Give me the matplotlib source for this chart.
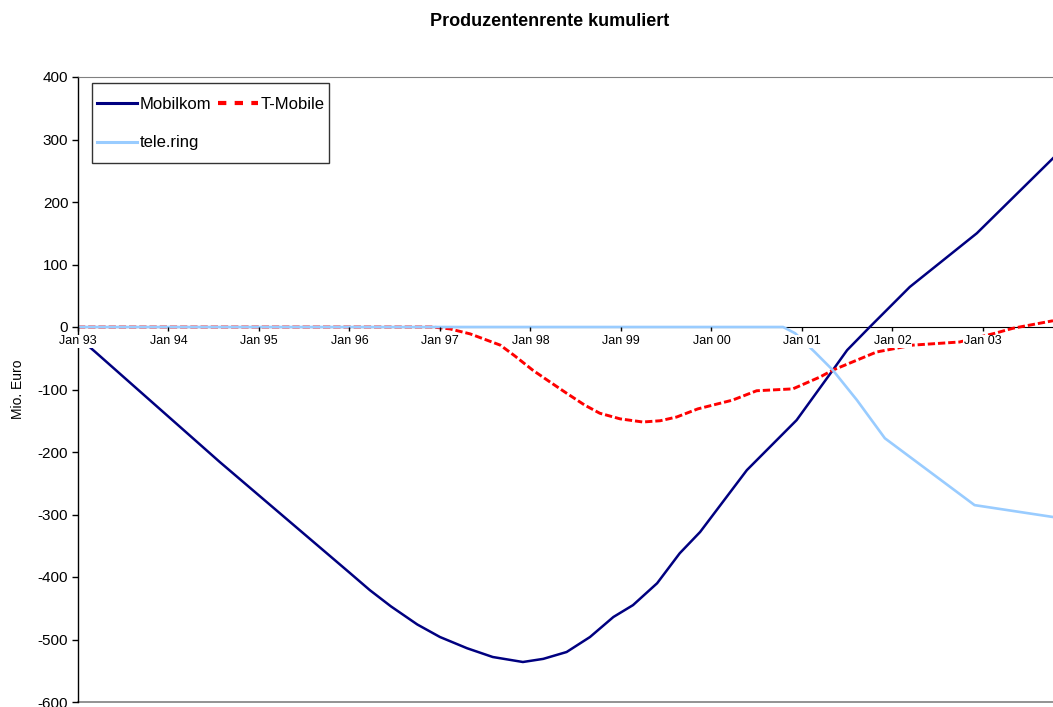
import matplotlib

matplotlib.use("Agg")

import numpy as np
import matplotlib.pyplot as plt
from matplotlib.legend_handler import HandlerLine2D
from matplotlib.lines import Line2D

# months counted from Jan 1993
MOBILKOM_M = [0, 2.3, 18.8, 36.1, 38.7, 41.5, 45.0, 48.0, 51.6, 55.0, 59.0, 61.7, 64.8,
              67.9, 71.0, 73.6, 76.8, 79.8, 82.5, 88.7, 95.3, 100.1, 102.0, 105.0,
              110.3, 119.2, 129.3]
MOBILKOM_V = [-16, -40, -216, -394, -421, -447, -476, -496, -514, -528, -536, -531, -520,
              -496, -464, -445, -410, -362, -328, -229, -149, -69, -37, 0,
              64, 150, 270]

TMOBILE_M = [0, 47.0, 49.3, 52.0, 56.0, 57.9, 60.3, 62.6, 64.8, 67.2, 69.2, 71.9,
             74.9, 77.2, 79.4, 82.2, 86.8, 90.0, 94.8, 98.4, 100.1, 105.9, 110.7,
             116.9, 121.6, 124.0, 129.3]
TMOBILE_V = [0, 0, -3, -11, -29, -46, -69, -88, -106, -125, -138, -147,
             -152, -150, -144, -131, -117, -102, -99, -80, -69, -40, -29,
             -24, -10, -2, 10]

TELERING_M = [0, 93.5, 95.1, 97.7, 100.1, 103.3, 107.0, 118.9, 129.3]
TELERING_V = [0, 0, -10, -40, -69, -117, -178, -285, -304]

TICK_MONTHS = [0, 12, 24, 36, 48, 60, 72, 84, 96, 108, 120]
TICK_LABELS = ["Jan 93", "Jan 94", "Jan 95", "Jan 96", "Jan 97", "Jan 98",
               "Jan 99", "Jan 00", "Jan 01", "Jan 02", "Jan 03"]
Y_TICKS = [-600, -500, -400, -300, -200, -100, 0, 100, 200, 300, 400]

NAVY = "#000080"
RED = "#FF0000"
LIGHT = "#99CCFF"
GRAY = "#808080"


class LoweredLine(HandlerLine2D):
    # legend line sits level with the middle of the label text
    def create_artists(self, legend, orig_handle, xdescent, ydescent, width, height,
                       fontsize, trans):
        artists = super().create_artists(legend, orig_handle, xdescent, ydescent,
                                         width, height, fontsize, trans)
        for a in artists:
            a.set_ydata(np.asarray(a.get_ydata()) - 0.3 * fontsize)
        return artists


plt.rcParams.update({
    "font.family": ["Liberation Sans", "DejaVu Sans"],
    "axes.unicode_minus": False,
})

fig = plt.figure(figsize=(10.53, 7.07), dpi=100)
ax = fig.add_axes([78 / 1053, 1 - 702 / 707, 1 - 78 / 1053, (702 - 77) / 707])
ax.set_axisbelow(False)

ax.plot(MOBILKOM_M, MOBILKOM_V, color=NAVY, lw=1.8, zorder=2)
ax.plot(TMOBILE_M, TMOBILE_V, color=RED, lw=2.1, dashes=(2.5, 1.0), zorder=2.1)
ax.plot(TELERING_M, TELERING_V, color=LIGHT, lw=1.9, zorder=2.2)

ax.set_xlim(0, 129.3)
ax.set_ylim(-600, 400)

ax.spines["right"].set_visible(False)
ax.spines["top"].set_color(GRAY)
ax.spines["bottom"].set_position(("data", 0))
ax.spines["bottom"].set_zorder(1)
ax.spines["left"].set_linewidth(1.0)
ax.axhline(-600, color=GRAY, lw=1.2, clip_on=False, zorder=1)

ax.set_yticks(Y_TICKS)
ax.set_yticklabels([str(v) for v in Y_TICKS], fontsize=11)
ax.tick_params(axis="y", direction="out", length=4, width=1, pad=3)

ax.set_xticks(TICK_MONTHS)
ax.set_xticklabels(TICK_LABELS, fontsize=9)
ax.tick_params(axis="x", direction="out", length=3, width=1, pad=3)
for lbl in ax.get_xticklabels():
    lbl.set_bbox(dict(facecolor="white", edgecolor="none", pad=0.5))

fig.text(18 / 1053, 1 - 389 / 707, "Mio. Euro", rotation=90, ha="center", va="center", fontsize=10)
fig.text(550 / 1053, 1 - 22 / 707, "Produzentenrente kumuliert", ha="center", va="center",
         fontsize=13, fontweight="bold")

handles = [
    Line2D([], [], color=NAVY, lw=2.2),
    Line2D([], [], color=LIGHT, lw=2.2),
    Line2D([], [], color=RED, lw=3, dashes=(2, 2)),
]
leg = fig.legend(handles, ["Mobilkom", "tele.ring", "T-Mobile"], ncol=2,
                 loc="upper left", bbox_to_anchor=(92 / 1053, 1 - 83 / 707),
                 frameon=True, fancybox=False, fontsize=12, handlelength=2.4,
                 handleheight=2.55, handletextpad=0.15, columnspacing=0.4,
                 borderpad=0.3, labelspacing=0.4, borderaxespad=0,
                 handler_map={Line2D: LoweredLine()})
leg.get_frame().set_edgecolor("black")
leg.get_frame().set_linewidth(1.0)

fig.savefig("out.png", dpi=100, facecolor="white")
